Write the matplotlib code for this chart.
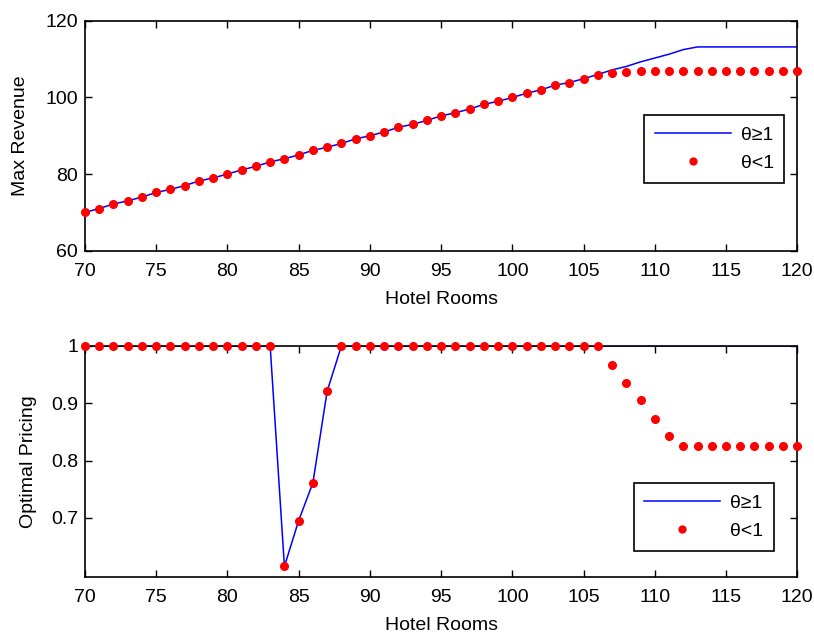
import numpy as np
import matplotlib
matplotlib.use("Agg")
import matplotlib.pyplot as plt

plt.rcParams['font.family'] = ['Liberation Sans', 'DejaVu Sans']
plt.rcParams['font.size'] = 14

rooms = list(range(70, 121))

# max revenue
rev_high = [70.0, 71.0, 72.2, 73.0, 74.0, 75.2, 76.0, 77.0, 78.2, 79.0,
            80.0, 81.1, 82.0, 83.2, 84.0, 85.0, 86.2, 87.0, 88.0, 89.2,
            90.0, 91.0, 92.2, 93.0, 94.0, 95.2, 96.0, 97.0, 98.2, 99.0,
            100.0, 101.1, 102.0, 103.2, 103.9, 104.9, 106.0, 107.2, 108.1, 109.3,
            110.3, 111.3, 112.5, 113.2, 113.2, 113.2, 113.2, 113.2, 113.2, 113.2,
            113.2]
rev_low = [70.0, 71.0, 72.2, 73.0, 74.0, 75.2, 76.0, 77.0, 78.2, 79.0,
           80.0, 81.1, 82.0, 83.2, 84.0, 85.0, 86.2, 87.0, 88.0, 89.2,
           90.0, 91.0, 92.2, 93.0, 94.0, 95.2, 96.0, 97.0, 98.2, 99.0,
           100.0, 101.1, 102.0, 103.2, 103.9, 104.9, 106.0, 106.5, 106.6, 106.8,
           106.8, 106.8, 106.8, 106.8, 106.8, 106.8, 106.8, 106.8, 106.8, 106.8,
           106.8]

# optimal pricing
price_high = [1.0] * 14 + [0.615, 0.695, 0.761, 0.921] + [1.0] * 33
price_low = [1.0] * 14 + [0.615, 0.695, 0.761, 0.921] + [1.0] * 19 + \
            [0.967, 0.936, 0.905, 0.873, 0.842] + [0.825] * 9

labels = ['θ≥1', 'θ<1']

fig = plt.figure(figsize=(8.14, 6.33), dpi=100)
ax1 = fig.add_axes([0.1044, 0.604, 0.875, 0.3630])
ax2 = fig.add_axes([0.1044, 0.0889, 0.875, 0.3645])


def style(ax):
    ax.tick_params(direction='in', top=True, right=True, length=5, width=1, labelsize=14)
    ax.tick_params(axis='x', pad=9)
    ax.tick_params(axis='y', pad=5)
    for s in ax.spines.values():
        s.set_linewidth(1.2)
    ax.set_xlim(70, 120)
    ax.set_xticks(np.arange(70, 121, 5))
    ax.set_xlabel('Hotel Rooms', fontsize=14, labelpad=8)


def add_legend(ax, anchor):
    leg = ax.legend(loc='upper right', bbox_to_anchor=anchor, borderaxespad=0,
                    handlelength=3.9, handletextpad=0.5, fancybox=False, framealpha=1,
                    edgecolor='black', fontsize=14, borderpad=0.55, labelspacing=0.55,
                    markerscale=0.9)
    leg.get_frame().set_linewidth(1.2)


ax1.plot(rooms, rev_high, color='blue', lw=1.1, label=labels[0])
ax1.plot(rooms, rev_low, 'o', color='red', ms=5.5, mec='red', clip_on=False, label=labels[1], zorder=3)
style(ax1)
ax1.set_ylim(60, 120)
ax1.set_yticks([60, 80, 100, 120])
ax1.set_ylabel('Max Revenue', fontsize=14, labelpad=12)
add_legend(ax1, (0.982, 0.589))

ax2.plot(rooms, price_high, color='blue', lw=1.1, label=labels[0])
ax2.plot(rooms, price_low, 'o', color='red', ms=5.5, mec='red', clip_on=False, label=labels[1], zorder=3)
style(ax2)
ax2.set_ylim(0.597, 1.0)
ax2.set_yticks([0.7, 0.8, 0.9, 1.0])
ax2.set_yticklabels(['0.7', '0.8', '0.9', '1'])
ax2.set_ylabel('Optimal Pricing', fontsize=14, labelpad=10)
add_legend(ax2, (0.967, 0.405))

fig.savefig('out.png', dpi=100)
